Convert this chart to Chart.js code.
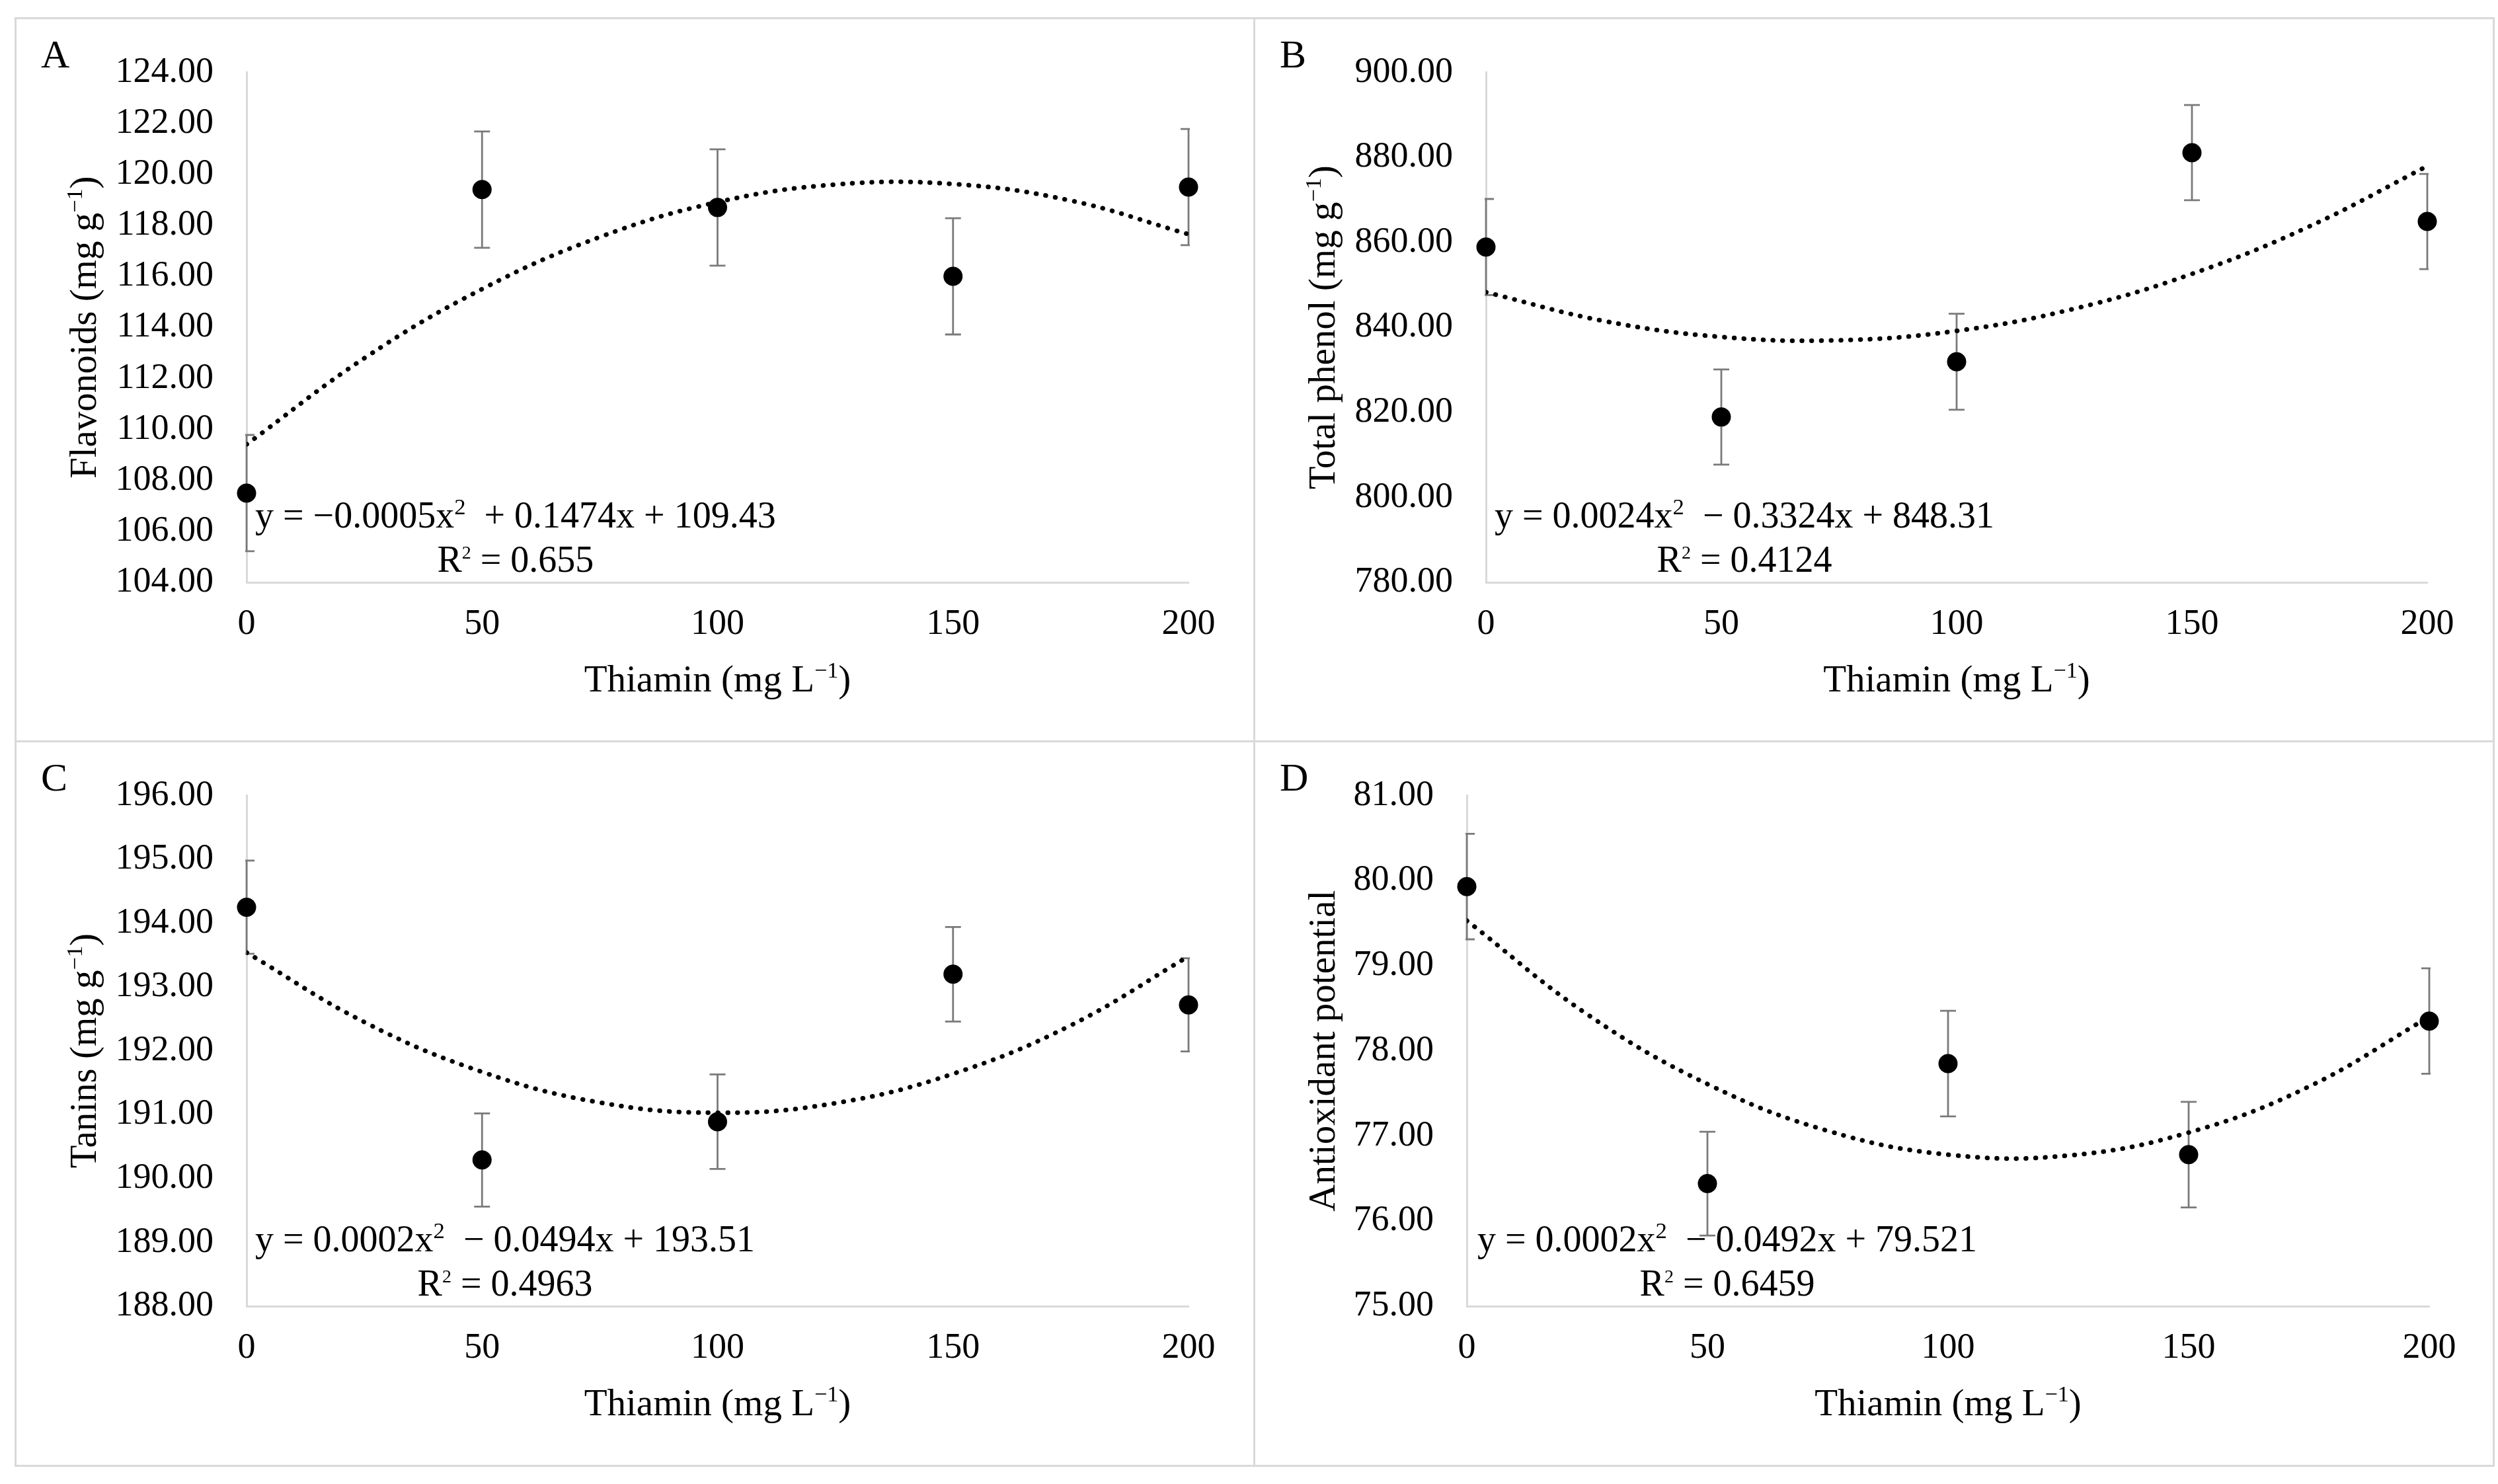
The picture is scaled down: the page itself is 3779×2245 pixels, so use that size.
<!DOCTYPE html>
<html>
<head>
<meta charset="utf-8">
<script src="https://cdn.jsdelivr.net/npm/chart.js@4.4.1/dist/chart.umd.min.js"></script>
<style>
html,body{margin:0;padding:0;background:#fff;}
body{width:3779px;height:2245px;position:relative;overflow:hidden;font-family:"Liberation Serif",serif;}
.panel{position:absolute;}
.panel canvas{position:absolute;left:0;top:0;}
.ln{position:absolute;background:#d9d9d9;z-index:5;}
#fontprobe{position:absolute;left:-5000px;top:0;font:54px "Liberation Serif";}
</style>
</head>
<body>
<div id="fontprobe">Thiamin 0123456789 (mg L−1)</div>
<div class="panel" style="left:23px;top:27px;width:1874px;height:1094px"><canvas id="cA" width="1874" height="1094"></canvas></div>
<div class="panel" style="left:1897px;top:27px;width:1875px;height:1094px"><canvas id="cB" width="1875" height="1094"></canvas></div>
<div class="panel" style="left:23px;top:1121px;width:1874px;height:1096px"><canvas id="cC" width="1874" height="1096"></canvas></div>
<div class="panel" style="left:1897px;top:1121px;width:1875px;height:1096px"><canvas id="cD" width="1875" height="1096"></canvas></div>
<div class="ln" style="left:22px;top:26px;width:3752px;height:3px"></div>
<div class="ln" style="left:22px;top:2216px;width:3752px;height:3px"></div>
<div class="ln" style="left:22px;top:26px;width:3px;height:2193px"></div>
<div class="ln" style="left:3771px;top:26px;width:3px;height:2193px"></div>
<div class="ln" style="left:1896px;top:26px;width:3px;height:2193px"></div>
<div class="ln" style="left:22px;top:1120px;width:3752px;height:3px"></div>
<script>
// ---------------- DATA ----------------
const thiamin = [0, 50, 100, 150, 200];
const xTicks = [0, 50, 100, 150, 200];
const trendX = [0, 25, 50, 75, 100, 125, 150, 175, 200];

const flavonoids = [107.5, 119.4, 118.7, 116.0, 119.5];
const flavonoidsErr = [2.28, 2.28, 2.28, 2.28, 2.28];
const flavonoidsTrend = [109.41, 112.79, 115.50, 117.54, 118.91, 119.60, 119.62, 118.97, 117.65];
const flavonoidsTicks = [104, 106, 108, 110, 112, 114, 116, 118, 120, 122, 124];

const phenol = [858.9, 818.9, 831.9, 881.1, 864.9];
const phenolErr = [11.3, 11.2, 11.3, 11.2, 11.2];
const phenolTrend = [848.27, 841.51, 837.74, 836.96, 839.17, 844.38, 852.58, 863.77, 877.95];
const phenolTicks = [780, 800, 820, 840, 860, 880, 900];

const tanins = [194.25, 190.29, 190.89, 193.20, 192.72];
const taninsErr = [0.73, 0.73, 0.74, 0.74, 0.73];
const taninsTrend = [193.54, 192.45, 191.67, 191.19, 191.03, 191.18, 191.64, 192.40, 193.48];
const taninsTicks = [188, 189, 190, 191, 192, 193, 194, 195, 196];

const antioxidant = [79.93, 76.44, 77.85, 76.78, 78.35];
const antioxidantErr = [0.62, 0.61, 0.62, 0.62, 0.62];
const antioxidantTrend = [79.53, 78.43, 77.61, 77.06, 76.78, 76.77, 77.04, 77.58, 78.40];
const antioxidantTicks = [75, 76, 77, 78, 79, 80, 81];

// ---------------- RENDERING ----------------
const FONT = '"Liberation Serif"';
const EQ_SIZE = 56;

function drawRich(ctx, parts, x, y, size) {
  let cx = x;
  for (const p of parts) {
    const s = p.sup ? size * p.sup : size;
    ctx.font = s + 'px ' + FONT;
    ctx.fillText(p.t, cx, p.sup ? y - size * 0.36 : y);
    cx += ctx.measureText(p.t).width;
  }
  return cx - x;
}
function richWidth(ctx, parts, size) {
  let w = 0;
  for (const p of parts) {
    const s = p.sup ? size * p.sup : size;
    ctx.font = s + 'px ' + FONT;
    w += ctx.measureText(p.t).width;
  }
  return w;
}

const errorBarPlugin = {
  id: 'errbars',
  beforeDatasetsDraw(chart, args, opts) {
    const {ctx, chartArea: a, scales: {x, y}} = chart;
    ctx.save();
    ctx.beginPath();
    ctx.rect(a.left - 2, a.top, a.right - a.left + 4, a.bottom - a.top);
    ctx.clip();
    ctx.strokeStyle = '#7a7a7a';
    ctx.lineWidth = 2.8;
    opts.xs.forEach((xv, i) => {
      const px = x.getPixelForValue(xv);
      const top = y.getPixelForValue(opts.ys[i] + opts.err[i]);
      const bot = y.getPixelForValue(opts.ys[i] - opts.err[i]);
      ctx.beginPath();
      ctx.moveTo(px, top); ctx.lineTo(px, bot);
      ctx.moveTo(px - 12, top); ctx.lineTo(px + 12, top);
      ctx.moveTo(px - 12, bot); ctx.lineTo(px + 12, bot);
      ctx.stroke();
    });
    ctx.restore();
  }
};

const textPlugin = {
  id: 'texts',
  afterDraw(chart, args, o) {
    const {ctx, chartArea: a} = chart;
    ctx.save();
    ctx.fillStyle = '#000';
    ctx.textBaseline = 'alphabetic';
    ctx.textAlign = 'left';
    ctx.font = '60px ' + FONT;
    ctx.fillText(o.letter, 39, 75);
    const tw = richWidth(ctx, o.yTitle, 57);
    ctx.save();
    ctx.translate(122, (a.top + a.bottom) / 2);
    ctx.rotate(-Math.PI / 2);
    drawRich(ctx, o.yTitle, -tw / 2, 0, 57);
    ctx.restore();
    const xw = richWidth(ctx, o.xTitle, 57);
    drawRich(ctx, o.xTitle, (a.left + a.right) / 2 - xw / 2, a.bottom + 165, 57);
    const ew = richWidth(ctx, o.eq, EQ_SIZE);
    const ex = a.left + o.eqDx;
    drawRich(ctx, o.eq, ex, a.bottom - 83, EQ_SIZE);
    const rw = richWidth(ctx, o.r2, EQ_SIZE);
    drawRich(ctx, o.r2, ex + ew / 2 - rw / 2, a.bottom - 16, EQ_SIZE);
    ctx.restore();
  }
};

const thiaminTitle = [{t: 'Thiamin (mg L'}, {t: '−1', sup: 0.6}, {t: ')'}];

function makeChart(id, c) {
  const canvas = document.getElementById(id);
  const W = canvas.width, H = canvas.height;
  return new Chart(canvas, {
    data: {
      datasets: [
        {
          type: 'scatter',
          data: c.xs.map((v, i) => ({x: v, y: c.ys[i]})),
          pointRadius: 14.5,
          pointBackgroundColor: '#000',
          pointBorderWidth: 0,
          clip: false,
          order: 1
        },
        {
          type: 'line',
          data: trendX.map((v, i) => ({x: v, y: c.trend[i]})),
          borderColor: '#000',
          borderWidth: 7,
          borderDash: [0.5, 14.2],
          borderCapStyle: 'round',
          pointRadius: 0,
          tension: 0.4,
          fill: false,
          order: 2
        }
      ]
    },
    options: {
      responsive: false,
      animation: false,
      events: [],
      layout: {padding: {left: 0, top: c.area.t, right: W - c.area.r, bottom: 0}},
      plugins: {
        legend: {display: false},
        tooltip: {enabled: false},
        errbars: {xs: c.xs, ys: c.ys, err: c.err},
        texts: {letter: c.letter, yTitle: c.yTitle, xTitle: thiaminTitle, eq: c.eq, r2: c.r2, eqDx: c.eqDx}
      },
      scales: {
        x: {
          type: 'linear',
          min: 0, max: 200,
          grid: {display: false, drawTicks: false},
          border: {display: true, color: '#d9d9d9', width: 3},
          afterBuildTicks: s => { s.ticks = xTicks.map(v => ({value: v})); },
          afterFit: s => { s.height = H - c.area.b; },
          ticks: {
            color: '#000', padding: 31, maxRotation: 0, autoSkip: false,
            font: {family: FONT, size: 54},
            callback: v => String(v)
          }
        },
        y: {
          type: 'linear',
          min: c.ticks[0], max: c.ticks[c.ticks.length - 1],
          grid: {display: false, drawTicks: false},
          border: {display: true, color: '#d9d9d9', width: 3},
          afterBuildTicks: s => { s.ticks = c.ticks.map(v => ({value: v})); },
          afterFit: s => { s.width = c.area.l; },
          ticks: {
            color: '#000', padding: 50, autoSkip: false,
            font: {family: FONT, size: 54},
            callback: v => Number(v).toFixed(2)
          }
        }
      }
    },
    plugins: [errorBarPlugin, textPlugin]
  });
}

function buildAll() {
  makeChart('cA', {
    letter: 'A', xs: thiamin, ys: flavonoids, err: flavonoidsErr, trend: flavonoidsTrend, ticks: flavonoidsTicks,
    area: {l: 350, t: 58, r: 1775, b: 854},
    yTitle: [{t: 'Flavonoids (mg g'}, {t: '−1', sup: 0.6}, {t: ')'}],
    eq: [{t: 'y = −0.0005x'}, {t: '2', sup: 0.62}, {t: '  + 0.1474x + 109.43'}],
    r2: [{t: 'R'}, {t: '2', sup: 0.5}, {t: ' = 0.655'}],
    eqDx: 13
  });
  makeChart('cB', {
    letter: 'B', xs: thiamin, ys: phenol, err: phenolErr, trend: phenolTrend, ticks: phenolTicks,
    area: {l: 351, t: 58, r: 1775, b: 854},
    yTitle: [{t: 'Total phenol (mg g'}, {t: '−1', sup: 0.6}, {t: ')'}],
    eq: [{t: 'y = 0.0024x'}, {t: '2', sup: 0.62}, {t: '  − 0.3324x + 848.31'}],
    r2: [{t: 'R'}, {t: '2', sup: 0.5}, {t: ' = 0.4124'}],
    eqDx: 13
  });
  makeChart('cC', {
    letter: 'C', xs: thiamin, ys: tanins, err: taninsErr, trend: taninsTrend, ticks: taninsTicks,
    area: {l: 350, t: 59, r: 1775, b: 855},
    yTitle: [{t: 'Tanins (mg g'}, {t: '−1', sup: 0.6}, {t: ')'}],
    eq: [{t: 'y = 0.0002x'}, {t: '2', sup: 0.62}, {t: '  − 0.0494x + 193.51'}],
    r2: [{t: 'R'}, {t: '2', sup: 0.5}, {t: ' = 0.4963'}],
    eqDx: 13
  });
  makeChart('cD', {
    letter: 'D', xs: thiamin, ys: antioxidant, err: antioxidantErr, trend: antioxidantTrend, ticks: antioxidantTicks,
    area: {l: 322, t: 59, r: 1778, b: 855},
    yTitle: [{t: 'Antioxidant potential'}],
    eq: [{t: 'y = 0.0002x'}, {t: '2', sup: 0.62}, {t: '  − 0.0492x + 79.521'}],
    r2: [{t: 'R'}, {t: '2', sup: 0.5}, {t: ' = 0.6459'}],
    eqDx: 16
  });
}

Chart.defaults.font.family = FONT;
if (document.fonts && document.fonts.load) {
  Promise.all([
    document.fonts.load('54px "Liberation Serif"'),
    document.fonts.load('60px "Liberation Serif"')
  ]).then(buildAll, buildAll);
} else {
  buildAll();
}
</script>
</body>
</html>
